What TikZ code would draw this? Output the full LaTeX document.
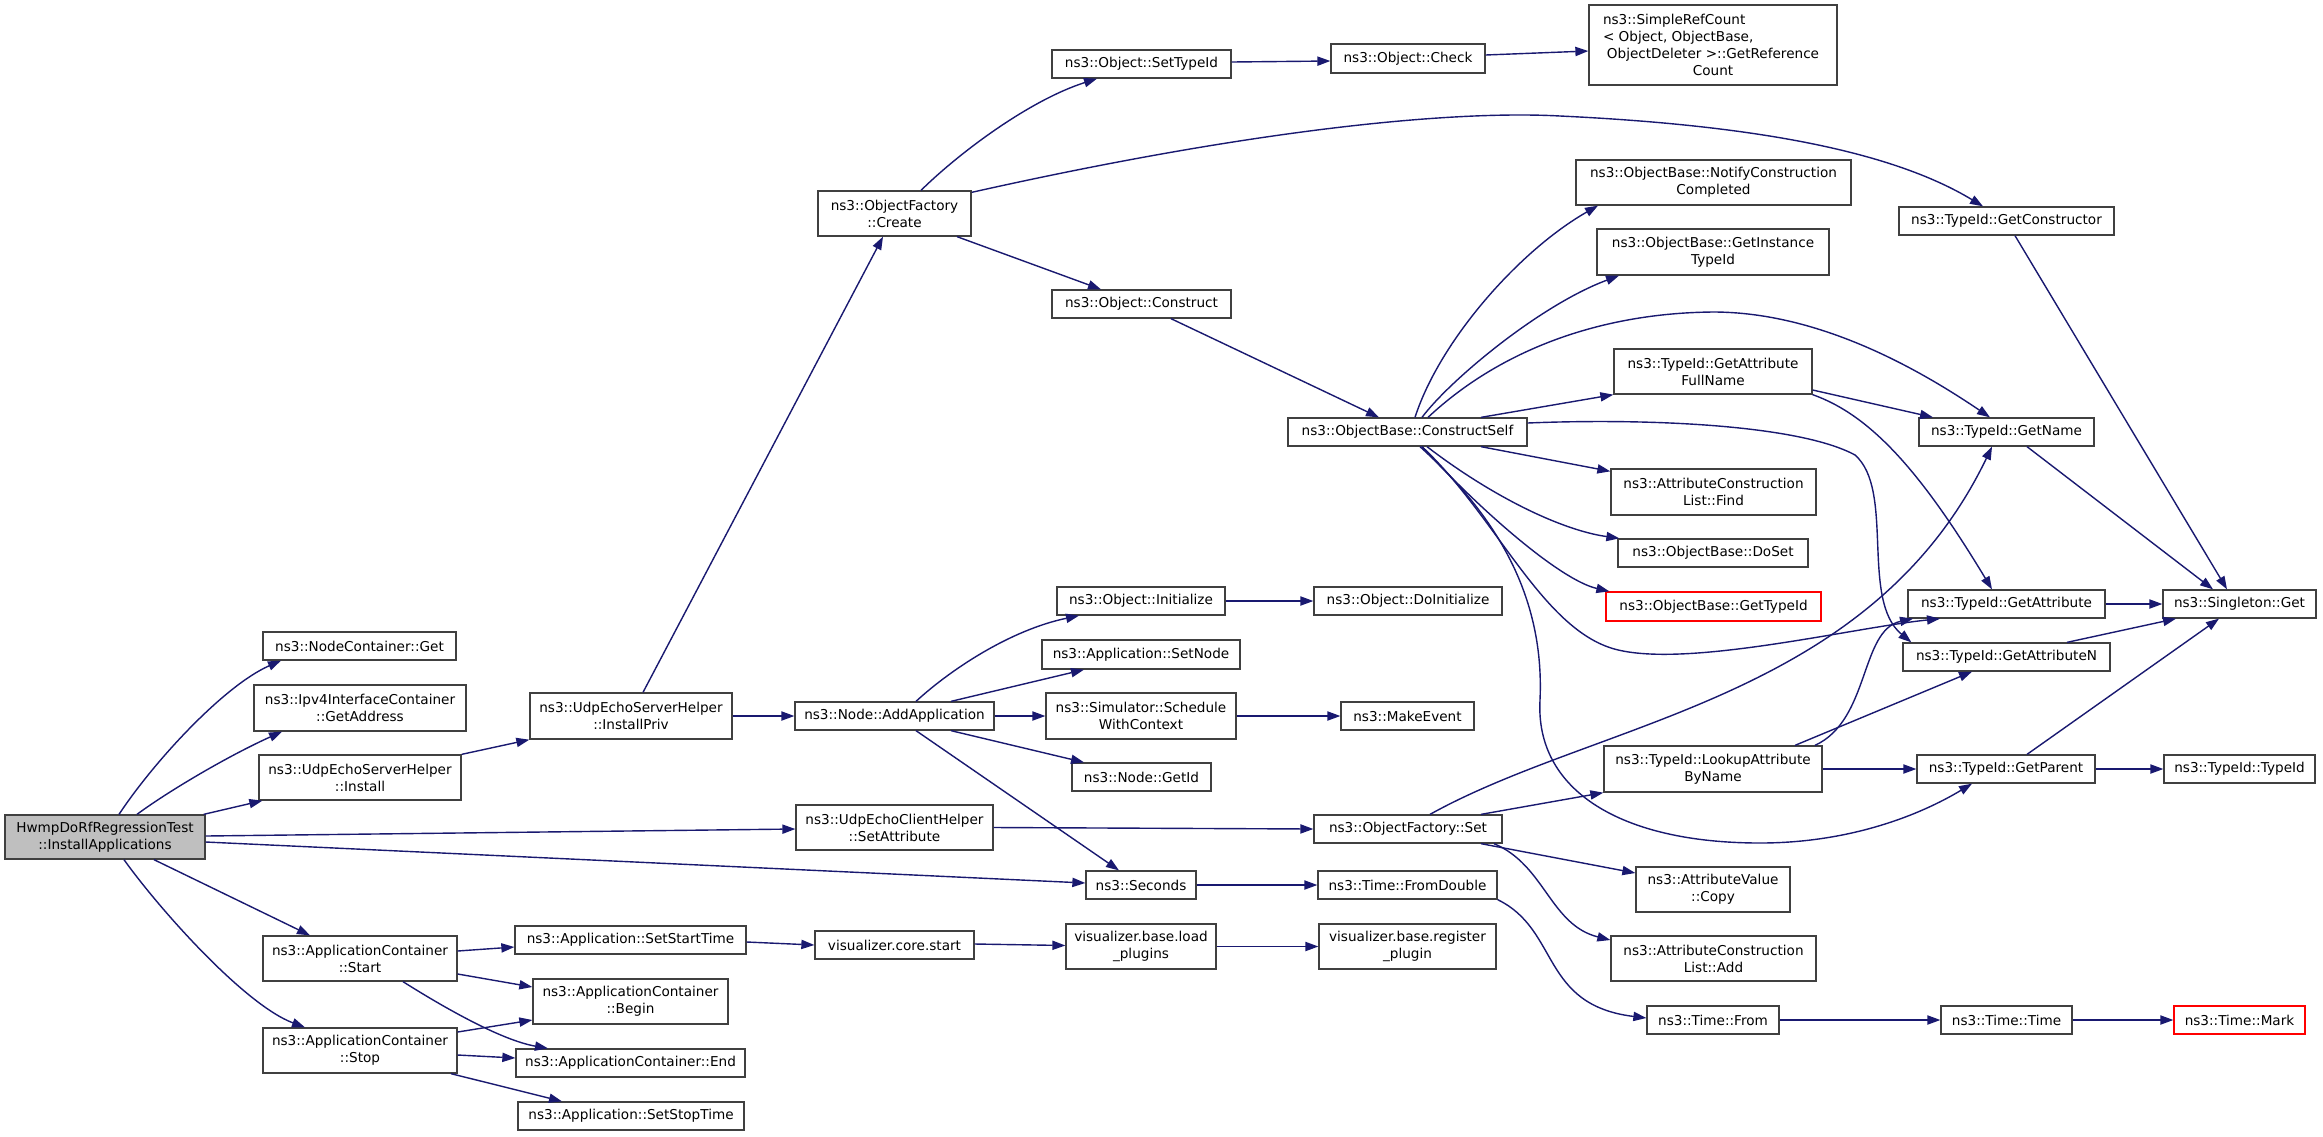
\documentclass[tikz,border=0pt]{standalone}
\usepackage{fontspec}
\setmainfont{DejaVu Sans}
\usetikzlibrary{arrows.meta}
\definecolor{edgec}{HTML}{191970}
\definecolor{boxc}{HTML}{404040}
\definecolor{rootc}{HTML}{BFBFBF}
\tikzset{
  box/.style={draw=boxc, line width=0.65pt, fill=white, inner sep=0pt, align=center,
    font=\fontsize{6.8pt}{8.5pt}\selectfont, text=black},
  redbox/.style={draw=red},
  rootbox/.style={fill=rootc},
  arr/.style={draw=edgec, color=edgec, line width=0.7pt, -{Triangle[length=6.5pt,width=4.6pt]}},
}
\newcommand\gbox[7][]{\node[box,#1,minimum width={(#5-#3)*0.5pt},minimum height={(#6-#4)*0.5pt}] (#2) at ({(#3+#5)/2},{(#4+#6)/2}) {#7};}
\begin{document}
\begin{tikzpicture}[x=0.5pt,y=-0.5pt]
\fill[white] (0,0) rectangle (2323,1136);
\useasboundingbox (0,0) rectangle (2323,1136);
% nodes
\gbox[rootbox]{hw}{5}{815}{205}{859}{HwmpDoRfRegressionTest\\::InstallApplications}
\gbox{ncget}{263}{632}{456}{660}{ns3::NodeContainer::Get}
\gbox{ipv4}{254}{685}{466}{731}{ns3::Ipv4InterfaceContainer\\::GetAddress}
\gbox{install}{259}{755}{461}{800}{ns3::UdpEchoServerHelper\\::Install}
\gbox{start}{263}{936}{457}{981}{ns3::ApplicationContainer\\::Start}
\gbox{stop}{263}{1028}{457}{1073}{ns3::ApplicationContainer\\::Stop}
\gbox{setstart}{515}{926}{746}{954}{ns3::Application::SetStartTime}
\gbox{begin}{533}{979}{728}{1024}{ns3::ApplicationContainer\\::Begin}
\gbox{endn}{516}{1049}{745}{1077}{ns3::ApplicationContainer::End}
\gbox{setstop}{518}{1102}{744}{1130}{ns3::Application::SetStopTime}
\gbox{instpriv}{530}{693}{732}{739}{ns3::UdpEchoServerHelper\\::InstallPriv}
\gbox{create}{818}{191}{971}{236}{ns3::ObjectFactory\\::Create}
\gbox{addapp}{795}{702}{994}{730}{ns3::Node::AddApplication}
\gbox{client}{796}{805}{993}{850}{ns3::UdpEchoClientHelper\\::SetAttribute}
\gbox{corestart}{815}{931}{974}{959}{visualizer.core.start}
\gbox{settypeid}{1052}{50}{1231}{78}{ns3::Object::SetTypeId}
\gbox{construct}{1052}{290}{1231}{318}{ns3::Object::Construct}
\gbox{init}{1057}{587}{1225}{615}{ns3::Object::Initialize}
\gbox{setnode}{1042}{640}{1240}{669}{ns3::Application::SetNode}
\gbox{sched}{1046}{693}{1236}{739}{ns3::Simulator::Schedule\\WithContext}
\gbox{getid}{1072}{763}{1211}{791}{ns3::Node::GetId}
\gbox{seconds}{1086}{871}{1196}{899}{ns3::Seconds}
\gbox{load}{1066}{924}{1216}{969}{visualizer.base.load\\\_plugins}
\gbox{check}{1331}{44}{1485}{73}{ns3::Object::Check}
\gbox{cs}{1288}{418}{1527}{446}{ns3::ObjectBase::ConstructSelf}
\gbox{doinit}{1314}{587}{1502}{615}{ns3::Object::DoInitialize}
\gbox{makeev}{1341}{702}{1474}{730}{ns3::MakeEvent}
\gbox{ofset}{1314}{815}{1502}{843}{ns3::ObjectFactory::Set}
\gbox{fromd}{1318}{871}{1497}{899}{ns3::Time::FromDouble}
\gbox{reg}{1319}{924}{1496}{969}{visualizer.base.register\\\_plugin}
\gbox{simpleref}{1589}{5}{1837}{85}{\makebox[110pt][l]{ns3::SimpleRefCount}\\\makebox[110pt][l]{< Object, ObjectBase,}\\ObjectDeleter >::GetReference\\Count}
\gbox{notify}{1576}{160}{1851}{205}{ns3::ObjectBase::NotifyConstruction\\Completed}
\gbox{git}{1597}{229}{1829}{275}{ns3::ObjectBase::GetInstance\\TypeId}
\gbox{gafn}{1614}{349}{1812}{394}{ns3::TypeId::GetAttribute\\FullName}
\gbox{aclfind}{1611}{469}{1816}{515}{ns3::AttributeConstruction\\List::Find}
\gbox{doset}{1618}{539}{1808}{567}{ns3::ObjectBase::DoSet}
\gbox[redbox]{gettid}{1606}{592}{1821}{621}{ns3::ObjectBase::GetTypeId}
\gbox{lookup}{1604}{746}{1822}{792}{ns3::TypeId::LookupAttribute\\ByName}
\gbox{avcopy}{1636}{867}{1790}{912}{ns3::AttributeValue\\::Copy}
\gbox{acladd}{1611}{936}{1816}{981}{ns3::AttributeConstruction\\List::Add}
\gbox{tfrom}{1647}{1006}{1779}{1034}{ns3::Time::From}
\gbox{getctor}{1899}{207}{2114}{235}{ns3::TypeId::GetConstructor}
\gbox{getname}{1919}{418}{2094}{446}{ns3::TypeId::GetName}
\gbox{getattr}{1908}{590}{2105}{618}{ns3::TypeId::GetAttribute}
\gbox{getattrn}{1903}{643}{2110}{671}{ns3::TypeId::GetAttributeN}
\gbox{getparent}{1917}{755}{2095}{783}{ns3::TypeId::GetParent}
\gbox{ttime}{1941}{1006}{2072}{1034}{ns3::Time::Time}
\gbox{singleton}{2163}{590}{2316}{618}{ns3::Singleton::Get}
\gbox{typeid}{2164}{755}{2315}{783}{ns3::TypeId::TypeId}
\gbox[redbox]{mark}{2174}{1006}{2305}{1034}{ns3::Time::Mark}
% edges
\draw[arr] ([shift={(14,0)}]hw.north) .. controls (155,760) and (225,685) .. ([shift={(-78.5,0)}]ncget.south);
\draw[arr] ([shift={(32,0)}]hw.north) .. controls (170,790) and (230,755) .. ([shift={(-78,0)}]ipv4.south);
\draw[arr] ([shift={(-2,0)}]hw.north east) -- ([shift={(4,0)}]install.south west);
\draw[arr] (install.north east) -- (instpriv.south west);
\draw[arr] ([shift={(0,-1)}]hw.east) -- ([shift={(0,1.5)}]client.west);
\draw[arr] ([shift={(0,5)}]hw.east) -- ([shift={(0,-2)}]seconds.west);
\draw[arr] ([shift={(49,0)}]hw.south) -- ([shift={(-50,0)}]start.north);
\draw[arr] ([shift={(19,0)}]hw.south) .. controls (160,910) and (245,1005) .. ([shift={(-55,0)}]stop.north);
\draw[arr] ([shift={(0,-7.5)}]start.east) -- ([shift={(0,7)}]setstart.west);
\draw[arr] ([shift={(0,15.5)}]start.east) -- ([shift={(0,-14.5)}]begin.west);
\draw[arr] ([shift={(43,0)}]start.south) .. controls (440,1005) and (500,1040) .. ([shift={(-82.5,0)}]endn.north);
\draw[arr] ([shift={(0,-18.5)}]stop.east) -- ([shift={(0,18.5)}]begin.west);
\draw[arr] ([shift={(0,4.5)}]stop.east) -- ([shift={(0,-5)}]endn.west);
\draw[arr] ([shift={(91,0)}]stop.south) -- ([shift={(-69,0)}]setstop.north);
\draw[arr] ([shift={(0,2)}]setstart.east) -- (corestart.west);
\draw[arr] ([shift={(0,-1)}]corestart.east) -- ([shift={(0,-1)}]load.west);
\draw[arr] (load.east) -- (reg.west);
\draw[arr] ([shift={(12,0)}]instpriv.north) -- ([shift={(-11.5,0)}]create.south);
\draw[arr] (instpriv.east) -- (addapp.west);
\draw[arr] ([shift={(26.5,0)}]create.north) .. controls (960,152) and (1030,100) .. ([shift={(-44.5,0)}]settypeid.south);
\draw[arr] ([shift={(0,2)}]create.north east) .. controls (1250,130) and (1450,110) .. (1560,116) .. controls (1750,125) and (1890,150) .. ([shift={(-23.5,0)}]getctor.north);
\draw[arr] ([shift={(62.5,0)}]create.south) -- ([shift={(-40.5,0)}]construct.north);
\draw[arr] ([shift={(0,-2)}]settypeid.east) -- ([shift={(0,2.5)}]check.west);
\draw[arr] ([shift={(0,-3.5)}]check.east) -- ([shift={(0,6)}]simpleref.west);
\draw[arr] ([shift={(29.5,0)}]construct.south) -- ([shift={(-28.5,0)}]cs.north);
\draw[arr] ([shift={(7.5,0)}]cs.north) .. controls (1440,340) and (1520,250) .. ([shift={(-115.5,0)}]notify.south);
\draw[arr] ([shift={(14.5,0)}]cs.north) .. controls (1450,380) and (1540,305) .. ([shift={(-94,0)}]git.south);
\draw[arr] ([shift={(20.5,0)}]cs.north) .. controls (1500,350) and (1600,313) .. (1713,312) .. controls (1820,312) and (1920,370) .. ([shift={(-16.5,0)}]getname.north);
\draw[arr] ([shift={(73.5,0)}]cs.north) -- (gafn.south west);
\draw[arr] ([shift={(0,-9)}]cs.east) .. controls (1650,418) and (1800,425) .. (1855,455) .. controls (1895,490) and (1860,600) .. ([shift={(9,0)}]getattrn.north west);
\draw[arr] ([shift={(14.5,0)}]cs.south) .. controls (1495,515) and (1540,625) .. (1611,648) .. controls (1680,670) and (1850,628) .. ([shift={(-66.5,0)}]getattr.south);
\draw[arr] ([shift={(12.5,0)}]cs.south) .. controls (1490,510) and (1545,590) .. (1540,700) .. controls (1535,790) and (1620,843) .. (1760,843) .. controls (1850,843) and (1920,815) .. ([shift={(-34,0)}]getparent.south);
\draw[arr] ([shift={(14.5,0)}]cs.south) .. controls (1480,510) and (1560,580) .. ([shift={(4,0)}]gettid.north west);
\draw[arr] ([shift={(19.5,0)}]cs.south) .. controls (1490,495) and (1560,530) .. ([shift={(2,0)}]doset.north west);
\draw[arr] ([shift={(73.5,0)}]cs.south) -- ([shift={(0,3)}]aclfind.north west);
\draw[arr] ([shift={(0,18.5)}]gafn.east) -- ([shift={(-73.5,0)}]getname.north);
\draw[arr] (gafn.south east) .. controls (1870,415) and (1920,470) .. ([shift={(-14.5,0)}]getattr.north);
\draw[arr] ([shift={(20.5,0)}]getname.south) -- ([shift={(-26.5,0)}]singleton.north);
\draw[arr] ([shift={(8.5,0)}]getctor.south) -- ([shift={(-12.5,0)}]singleton.north);
\draw[arr] (getattr.east) -- (singleton.west);
\draw[arr] ([shift={(60.5,0)}]getattrn.north) -- ([shift={(-63.5,0)}]singleton.south);
\draw[arr] ([shift={(21,0)}]getparent.north) -- ([shift={(-20.5,0)}]singleton.south);
\draw[arr] (getparent.east) -- (typeid.west);
\draw[arr] ([shift={(102,0)}]lookup.north) .. controls (1870,720) and (1860,630) .. ([shift={(-93.5,0)}]getattr.south);
\draw[arr] ([shift={(82,0)}]lookup.north) -- ([shift={(-34.5,0)}]getattrn.south);
\draw[arr] (lookup.east) -- (getparent.west);
\draw[arr] ([shift={(22,0)}]ofset.north) .. controls (1600,720) and (1870,700) .. ([shift={(-14.5,0)}]getname.south);
\draw[arr] ([shift={(73,0)}]ofset.north) -- (lookup.south west);
\draw[arr] ([shift={(73,0)}]ofset.south) -- ([shift={(0,-16.5)}]avcopy.west);
\draw[arr] ([shift={(86,0)}]ofset.south) .. controls (1545,865) and (1550,925) .. ([shift={(0,-18.5)}]acladd.west);
\draw[arr] (fromd.south east) .. controls (1560,930) and (1540,1005) .. ([shift={(0,-2)}]tfrom.west);
\draw[arr] (tfrom.east) -- (ttime.west);
\draw[arr] (ttime.east) -- (mark.west);
\draw[arr] (seconds.east) -- (fromd.west);
\draw[arr] (client.east) -- (ofset.west);
\draw[arr] ([shift={(21.5,0)}]addapp.south) -- ([shift={(-22,0)}]seconds.north);
\draw[arr] ([shift={(21.5,0)}]addapp.north) .. controls (950,670) and (1010,630) .. ([shift={(-62,0)}]init.south);
\draw[arr] ([shift={(56.5,0)}]addapp.north) -- ([shift={(-57,0)}]setnode.south);
\draw[arr] (addapp.east) -- (sched.west);
\draw[arr] ([shift={(56.5,0)}]addapp.south) -- ([shift={(-57.5,0)}]getid.north);
\draw[arr] (init.east) -- (doinit.west);
\draw[arr] (sched.east) -- (makeev.west);
\end{tikzpicture}
\end{document}
